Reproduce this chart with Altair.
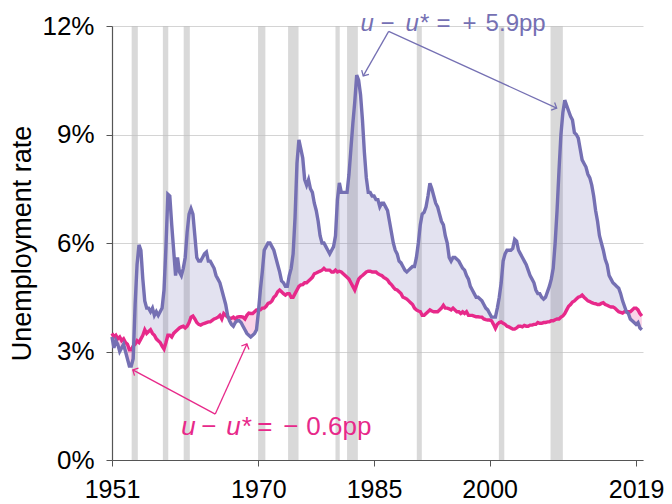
import altair as alt
import pandas as pd
import numpy as np

# ---------------- data (quarterly) ----------------
start_year = 1951
u_rate = [
    3.4, 3.1, 3.3, 3.2,   # 1951
    3.0, 3.1, 3.2, 3.0,   # 1952
    2.8, 2.6, 2.6, 2.8,   # 1953
    4.3, 5.4, 5.95, 5.8,  # 1954
    5.0, 4.4, 4.2, 4.2,   # 1955
    4.1, 4.2, 4.0, 4.1,   # 1956
    4.0, 4.1, 4.2, 4.7,   # 1957
    5.9, 7.35, 7.3, 6.5,  # 1958
    5.8, 5.1, 5.6, 5.2,   # 1959
    5.1, 5.3, 5.6, 6.3,   # 1960
    6.8, 6.95, 6.8, 6.2,  # 1961
    5.6, 5.5, 5.5, 5.6,   # 1962
    5.7, 5.75, 5.5, 5.5,  # 1963
    5.4, 5.3, 5.1, 5.0,   # 1964
    4.9, 4.7, 4.5, 4.3,   # 1965
    4.0, 3.85, 3.75, 3.7, # 1966
    3.8, 3.85, 3.85, 3.8, # 1967
    3.7, 3.6, 3.5, 3.45,  # 1968
    3.4, 3.45, 3.5, 3.6,  # 1969
    4.1, 4.7, 5.2, 5.8,   # 1970
    5.9, 6.0, 6.0, 5.9,   # 1971
    5.8, 5.6, 5.4, 5.2,   # 1972
    4.95, 4.9, 4.8, 4.8,  # 1973
    5.1, 5.3, 5.7, 6.7,   # 1974
    8.2, 8.85, 8.6, 8.35, # 1975
    7.75, 7.6, 7.75, 7.5, # 1976
    7.4, 7.1, 6.9, 6.6,   # 1977
    6.2, 6.0, 6.0, 5.9,   # 1978
    5.8, 5.7, 5.8, 5.9,   # 1979
    6.2, 7.2, 7.66, 7.4,  # 1980
    7.4, 7.4, 7.4, 7.9,   # 1981
    8.6, 9.3, 9.9, 10.64, # 1982
    10.5, 10.1, 9.4, 8.5, # 1983
    7.8, 7.4, 7.4, 7.3,   # 1984
    7.3, 7.2, 7.2, 7.0,   # 1985
    7.1, 7.1, 7.0, 6.9,   # 1986
    6.6, 6.3, 6.0, 5.8,   # 1987
    5.7, 5.5, 5.45, 5.35, # 1988
    5.25, 5.2, 5.25, 5.3, # 1989
    5.35, 5.35, 5.6, 6.0, # 1990
    6.5, 6.8, 6.85, 7.0,  # 1991
    7.3, 7.65, 7.5, 7.3,  # 1992
    7.1, 7.0, 6.8, 6.6,   # 1993
    6.5, 6.2, 6.0, 5.6,   # 1994
    5.5, 5.6, 5.6, 5.55,  # 1995
    5.5, 5.4, 5.3, 5.25,  # 1996
    5.1, 5.0, 4.8, 4.7,   # 1997
    4.6, 4.5, 4.5, 4.45,  # 1998
    4.4, 4.3, 4.2, 4.15,  # 1999
    4.05, 3.95, 3.95, 3.95, # 2000
    4.2, 4.5, 4.9, 5.5,   # 2001
    5.7, 5.8, 5.8, 5.8,   # 2002
    5.85, 6.1, 6.05, 5.8, # 2003
    5.7, 5.6, 5.5, 5.4,   # 2004
    5.25, 5.1, 5.0, 4.9,  # 2005
    4.7, 4.6, 4.6, 4.5,   # 2006
    4.45, 4.5, 4.65, 4.8, # 2007
    5.0, 5.3, 6.0, 6.9,   # 2008
    8.0, 9.0, 9.6, 9.95,  # 2009
    9.8, 9.65, 9.5, 9.4,  # 2010
    9.05, 9.0, 8.9, 8.6,  # 2011
    8.3, 8.2, 8.1, 7.9,   # 2012
    7.8, 7.6, 7.3, 6.9,   # 2013
    6.6, 6.2, 6.0, 5.8,   # 2014
    5.55, 5.4, 5.1, 5.0,  # 2015
    4.9, 4.85, 4.8, 4.75, # 2016
    4.6, 4.4, 4.25, 4.1,  # 2017
    4.05, 3.9, 3.85, 3.8, # 2018
    3.75, 3.8, 3.65, 3.6, # 2019
]
u_star = [
    3.5, 3.4, 3.45, 3.35,   # 1951
    3.4, 3.3, 3.35, 3.25,   # 1952
    3.2, 3.05, 3.05, 3.15,  # 1953
    3.2, 3.3, 3.25, 3.35,   # 1954
    3.45, 3.6, 3.5, 3.55,   # 1955
    3.6, 3.5, 3.45, 3.35,   # 1956
    3.3, 3.25, 3.15, 3.07,  # 1957
    3.25, 3.45, 3.45, 3.4,  # 1958
    3.5, 3.55, 3.6, 3.65,   # 1959
    3.68, 3.7, 3.65, 3.7,   # 1960
    3.8, 3.95, 3.98, 3.9,   # 1961
    3.8, 3.75, 3.73, 3.76,  # 1962
    3.78, 3.8, 3.82, 3.82,  # 1963
    3.86, 3.9, 3.92, 3.95,  # 1964
    4.0, 3.9, 4.05, 4.0,    # 1965
    3.95, 3.92, 3.92, 3.95, # 1966
    3.9, 3.95, 3.96, 3.96,  # 1967
    3.95, 3.9, 4.0, 4.06,   # 1968
    4.05, 4.05, 4.1, 4.15,  # 1969
    4.15, 4.15, 4.2, 4.2,   # 1970
    4.25, 4.33, 4.35, 4.4,  # 1971
    4.5, 4.55, 4.65, 4.7,   # 1972
    4.65, 4.6, 4.56, 4.6,   # 1973
    4.6, 4.5, 4.5, 4.6,     # 1974
    4.7, 4.8, 4.84, 4.85,   # 1975
    4.9, 4.9, 4.95, 5.0,    # 1976
    5.05, 5.15, 5.17, 5.2,  # 1977
    5.22, 5.25, 5.3, 5.25,  # 1978
    5.25, 5.25, 5.2, 5.2,   # 1979
    5.25, 5.2, 5.22, 5.2,   # 1980
    5.15, 5.1, 5.05, 5.0,   # 1981
    4.9, 4.8, 4.7, 4.85,    # 1982
    5.0, 5.06, 5.1, 5.15,   # 1983
    5.2, 5.22, 5.22, 5.2,   # 1984
    5.2, 5.2, 5.15, 5.12,   # 1985
    5.1, 5.05, 5.02, 4.98,  # 1986
    4.9, 4.85, 4.78, 4.72,  # 1987
    4.7, 4.65, 4.6, 4.5,    # 1988
    4.48, 4.45, 4.4, 4.35,  # 1989
    4.3, 4.2, 4.15, 4.12,   # 1990
    4.1, 4.0, 4.0, 4.05,    # 1991
    4.1, 4.15, 4.12, 4.1,   # 1992
    4.1, 4.1, 4.15, 4.2,    # 1993
    4.28, 4.2, 4.2, 4.18,   # 1994
    4.15, 4.2, 4.15, 4.1,   # 1995
    4.1, 4.05, 4.1, 4.05,   # 1996
    4.1, 4.0, 4.0, 4.0,     # 1997
    3.98, 3.96, 3.96, 3.95, # 1998
    3.95, 3.9, 3.88, 3.87,  # 1999
    3.87, 3.85, 3.75, 3.64, # 2000
    3.75, 3.8, 3.82, 3.78,  # 2001
    3.75, 3.7, 3.68, 3.65,  # 2002
    3.62, 3.62, 3.65, 3.7,  # 2003
    3.7, 3.68, 3.72, 3.7,   # 2004
    3.7, 3.73, 3.73, 3.75,  # 2005
    3.75, 3.8, 3.78, 3.78,  # 2006
    3.8, 3.8, 3.82, 3.82,   # 2007
    3.85, 3.85, 3.88, 3.9,  # 2008
    3.9, 3.95, 3.98, 4.05,  # 2009
    4.15, 4.25, 4.3, 4.37,  # 2010
    4.4, 4.45, 4.5, 4.52,   # 2011
    4.56, 4.5, 4.45, 4.4,   # 2012
    4.38, 4.35, 4.33, 4.32, # 2013
    4.3, 4.3, 4.33, 4.35,   # 2014
    4.3, 4.28, 4.25, 4.23,  # 2015
    4.23, 4.2, 4.15, 4.1,   # 2016
    4.08, 4.06, 4.1, 4.1,   # 2017
    4.1, 4.1, 4.15, 4.2,    # 2018
    4.2, 4.15, 4.05, 3.98,  # 2019
]
rec_start = [1953.55, 1957.6, 1960.3, 1969.95, 1973.85, 1980.0, 1981.5, 1990.55, 2001.2, 2007.9]
rec_end   = [1954.35, 1958.3, 1961.1, 1970.9, 1975.2, 1980.55, 1982.9, 1991.2, 2001.9, 2009.5]
x_ticks = [1951, 1970, 1985, 2000, 2019]
y_ticks = [0, 3, 6, 9, 12]

PURPLE = "#7570b3"
PINK = "#e7298a"
FONT = "Liberation Sans"

W, H = 531, 434
X0, X1 = 1951, 2019.9
Y0, Y1 = 0, 12

years = [start_year + i / 4 for i in range(len(u_rate))]
df = pd.DataFrame({"year": years, "u": u_rate, "ustar": u_star})
df["hi"] = np.maximum(df["u"], df["ustar"])
df["lo"] = np.minimum(df["u"], df["ustar"])
rec = pd.DataFrame({"s": rec_start, "e": rec_end})

xs = alt.Scale(domain=[X0, X1], nice=False, zero=False)
ys = alt.Scale(domain=[Y0, Y1], nice=False)

base = alt.Chart(df)

bars = alt.Chart(rec).mark_rect(color="#bfbfbf", opacity=0.6).encode(
    x=alt.X("s:Q", scale=xs,
            axis=alt.Axis(values=x_ticks, format="d", title=None, grid=False,
                          labelFontSize=25, labelFont=FONT, labelColor="black",
                          labelPadding=11, tickSize=6, tickColor="#555",
                          domainColor="#555", domainWidth=1.2, labelFlush=False)),
    x2="e:Q",
)

area_pos = base.mark_area(color=PURPLE, opacity=0.2).encode(
    x=alt.X("year:Q", scale=xs),
    y=alt.Y("hi:Q", scale=ys,
            axis=alt.Axis(values=y_ticks, labelExpr="datum.value + '%'",
                          title="Unemployment rate", titleFontSize=27, titleFont=FONT,
                          titleFontWeight="normal", titleColor="black", titlePadding=5,
                          labelFontSize=26, labelFont=FONT, labelColor="black",
                          labelPadding=12, tickSize=6, tickColor="#555",
                          domainColor="#555", domainWidth=1.2,
                          gridColor="#d4d4d4", gridWidth=1)),
    y2="ustar:Q",
)
area_neg = base.mark_area(color=PINK, opacity=0.2).encode(
    x=alt.X("year:Q", scale=xs), y=alt.Y("lo:Q", scale=ys), y2="ustar:Q",
)
line_u = base.mark_line(color=PURPLE, strokeWidth=3.4).encode(
    x=alt.X("year:Q", scale=xs), y=alt.Y("u:Q", scale=ys))
line_s = base.mark_line(color=PINK, strokeWidth=3.4).encode(
    x=alt.X("year:Q", scale=xs), y=alt.Y("ustar:Q", scale=ys))

# ---------------- annotations ----------------
px_per_x = W / (X1 - X0)
px_per_y = H / (Y1 - Y0)

def arrows(origin, targets, color):
    rows = []
    for tx, ty in targets:
        dx = (tx - origin[0]) * px_per_x
        dy = -(ty - origin[1]) * px_per_y
        ang = (np.degrees(np.arctan2(dy, dx))) % 360
        rows.append({"x": origin[0], "y": origin[1], "x2": tx, "y2": ty, "ang": ang})
    d = pd.DataFrame(rows)
    c = alt.Chart(d)
    r = c.mark_rule(color=color, strokeWidth=1.3).encode(
        x=alt.X("x:Q", scale=xs), y=alt.Y("y:Q", scale=ys), x2="x2:Q", y2="y2:Q")
    h = c.mark_point(shape="M-1,-1L0,0L-1,1", filled=False, color=color,
                     strokeWidth=1.3, size=70, opacity=1).encode(
        x=alt.X("x2:Q", scale=xs), y=alt.Y("y2:Q", scale=ys), angle=alt.Angle("ang:Q", scale=None))
    return r + h

top_arrows = arrows((1986.9, 11.85), [(1983.6, 10.62), (2008.7, 9.73)], PURPLE)
bot_arrows = arrows((1964.4, 1.27), [(1953.7, 2.49), (1968.5, 3.21)], PINK)

def label(x, y, parts, color, size, baseline):
    layers = []
    for text, dxp, italic in parts:
        layers.append(
            alt.Chart(pd.DataFrame({"x": [x], "y": [y]})).mark_text(
                text=text, align="left", baseline=baseline, dx=dxp,
                fontSize=size, font=FONT, color=color,
                fontStyle="italic" if italic else "normal",
            ).encode(x=alt.X("x:Q", scale=xs), y=alt.Y("y:Q", scale=ys))
        )
    return alt.layer(*layers)

top_parts = [("u", 0, True), ("\u2212", 20, False), ("u*", 45, True),
             ("=", 76, False), ("+", 102, False), ("5.9pp", 125, False)]
bot_parts = [("u", 0, True), ("\u2212", 20, False), ("u*", 45, True),
             ("=", 76, False), ("\u2212", 102, False), ("0.6pp", 125, False)]

top_label = label(1983.26, 11.87, top_parts, PURPLE, 24, "alphabetic")
bot_label = label(1960.0, 0.91, bot_parts, PINK, 26, "middle")

chart = alt.layer(
    bars, area_pos, area_neg, line_s, line_u, top_arrows, bot_arrows, top_label, bot_label
).properties(
    width=W, height=H,
    autosize=alt.AutoSizeParams(type="none"),
    padding={"left": 104, "top": 18, "right": 21, "bottom": 44},
).configure_view(stroke=None).configure_axisX(grid=False)

chart.save("out.html", embed_options={"renderer": "svg", "actions": False})
